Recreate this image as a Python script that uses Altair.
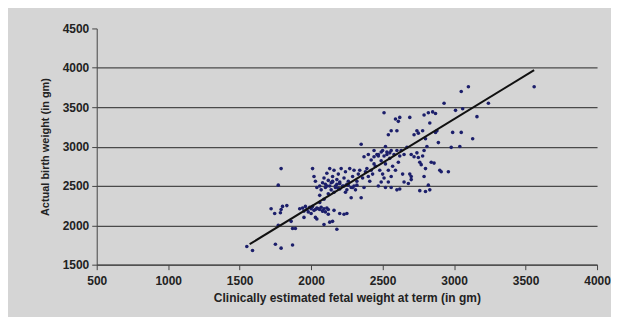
import altair as alt
import pandas as pd

# Estimated (x = clinically estimated fetal weight, y = actual birth weight)
est_weight = [
    1550, 1590, 1750, 1790, 1870, 1720, 1745, 1790, 1785, 1770, 1770, 1790, 1860, 1870, 1890, 1800, 1830,
    1920, 1940, 1950, 1960, 1970, 1980, 1990, 2000, 2000, 2010, 2020, 2030, 2040, 2040, 2060, 2070, 2080,
    2090, 2100, 2110, 2120, 2130, 2090, 2150, 2180, 2160, 2200, 2230, 2250, 1950, 2060, 2090,
    2010, 2020, 2030, 2040, 2060, 2070, 2080, 2090, 2100, 2100, 2110, 2120, 2130, 2130, 2140, 2150, 2150,
    2160, 2170, 2180, 2180, 2190, 2200, 2200, 2210, 2220, 2230, 2240, 2250, 2250, 2260, 2270, 2280, 2290,
    2300, 2300, 2310, 2320, 2330, 2340, 2350, 2280, 2360, 2370, 2380, 2390, 2400, 2410, 2420, 2430, 2440,
    2120, 2160, 2240, 2060,
    2350, 2370, 2400, 2420, 2440, 2450, 2460, 2470, 2480, 2490, 2500, 2500, 2510, 2520, 2520, 2530, 2540,
    2540, 2550, 2560, 2560, 2570, 2580, 2590, 2600, 2610, 2620, 2630, 2640, 2650, 2490, 2470, 2520, 2560,
    2600, 2620, 2650, 2680, 2700, 2690, 2670, 2700, 2720, 2740, 2750, 2760, 2540, 2560, 2600, 2610, 2620,
    2590, 2510, 2690,
    2720, 2740, 2750, 2780, 2800, 2810, 2790, 2830, 2790, 2820, 2850, 2870, 2870, 2880, 2890, 2840, 2860,
    2900, 2910, 2930, 2960, 2990, 2980, 3010, 3040, 3050, 3060, 3050, 3100, 3130, 3160, 3240, 3560, 2800,
    2790, 2760, 2800, 2820, 2830, 2700, 2770, 2780,
    2110, 2140, 2170, 2200, 2230, 2260, 2290, 2320, 2150, 2190, 2470, 2490, 2510, 2530, 2550, 2440,
    2000, 2030, 2050, 2080, 2120,
]
actual_weight = [
    1730, 1680, 1760, 1710, 1750, 2210, 2150, 2200, 2160, 2000, 2510, 2720, 2050, 1960, 1960, 2240, 2250,
    2210, 2220, 2180, 2240, 2200, 2170, 2230, 2210, 2150, 2240, 2190, 2100, 2080, 2220, 2200, 2230, 2180,
    2210, 2170, 2220, 2140, 2040, 2010, 2050, 1950, 2190, 2150, 2140, 2150, 2100, 2290, 2330,
    2720, 2620, 2560, 2480, 2500, 2450, 2540, 2600, 2480, 2520, 2660, 2570, 2720, 2500, 2450, 2550, 2620,
    2700, 2480, 2520, 2580, 2650, 2460, 2550, 2720, 2500, 2600, 2680, 2450, 2520, 2560, 2720, 2480, 2620,
    2700, 2500, 2450, 2560, 2650, 2700, 2350, 2350, 2600, 2480, 2680, 2720, 2620, 2560, 2700, 2650, 2780,
    2400, 2420, 2420, 2380,
    3030, 2870, 2900, 2830, 2950, 2750, 2900, 2880, 2700, 2820, 2950, 2650, 2600, 2780, 3000, 2900, 2700,
    2550, 2850, 2950, 2620, 2750, 2900, 2700, 2950, 2800, 2880, 2950, 2650, 2900, 2550, 2500, 2480, 2480,
    2450, 2460, 2550, 2530, 2580, 2650, 2990, 2900, 2870, 2920, 2860, 2800, 3150, 3200, 3200, 3320, 3370,
    3350, 3430, 3370,
    3150, 3200, 3170, 3200, 3100, 3000, 2950, 3300, 3400, 3430, 3440, 3420, 3180, 3200, 3050, 2800, 2790,
    2700, 2680, 3550, 2680, 3180, 2990, 3460, 3000, 3180, 3480, 3700, 3760, 3100, 3380, 3550, 3760, 2720,
    2620, 2440, 2430, 2510, 2450, 2620, 2770, 2880,
    2500, 2540, 2500, 2530, 2500, 2510, 2480, 2510, 2560, 2470, 2900, 2930, 2880, 2930, 2920, 2870,
    2230, 2200, 2210, 2180, 2200,
]

trend_x = [1570, 3560]
trend_y = [1760, 3970]

x_ticks = [500, 1000, 1500, 2000, 2500, 3000, 3500, 4000]
y_ticks = [1500, 2000, 2500, 3000, 3500, 4000, 4500]

pts = pd.DataFrame({"x": est_weight, "y": actual_weight})
trend = pd.DataFrame({"x": trend_x, "y": trend_y})

xscale = alt.Scale(domain=[500, 4000], nice=False)
yscale = alt.Scale(domain=[1500, 4500], nice=False)

FONT = "Liberation Sans"

x_axis = alt.Axis(
    values=x_ticks, tickCount=20, grid=False, format="d", labelOverlap=False,
    title="Clinically estimated fetal weight at term (in gm)",
    labelFont=FONT, labelFontWeight="bold", labelFontSize=12, labelColor="#222",
    titleFont=FONT, titleFontWeight="bold", titleFontSize=12, titleColor="#222",
    domainColor="#444", tickColor="#444", tickSize=5, labelPadding=6, titlePadding=6,
    labelFlush=False,
)
y_axis = alt.Axis(
    values=y_ticks, tickCount=20, format="d", labelOverlap=False,
    grid=True, gridColor="#4a4a4a", gridWidth=1.3,
    gridOpacity=alt.condition("datum.value >= 4500", alt.value(0), alt.value(1)),
    title="Actual birth weight (in gm)",
    labelFont=FONT, labelFontWeight="bold", labelFontSize=12, labelColor="#222",
    titleFont=FONT, titleFontWeight="bold", titleFontSize=11, titleColor="#222",
    domainColor="#444", tickColor="#444", tickSize=5, labelPadding=3, titlePadding=12,
)

points = alt.Chart(pts).mark_circle(size=13, color="#1c1f6b", opacity=1).encode(
    x=alt.X("x:Q", scale=xscale, axis=x_axis),
    y=alt.Y("y:Q", scale=yscale, axis=y_axis),
)

line = alt.Chart(trend).mark_line(color="#111", strokeWidth=2).encode(
    x=alt.X("x:Q", scale=xscale),
    y=alt.Y("y:Q", scale=yscale),
)

chart = alt.layer(points, line).properties(
    width=502, height=237,
    background="#d5d5d5",
    padding={"left": 89, "top": 20, "right": 14, "bottom": 52},
    autosize=alt.AutoSizeParams(type="none"),
).configure_view(stroke=None)

chart.save("out.html", embed_options={"renderer": "svg", "actions": False})
